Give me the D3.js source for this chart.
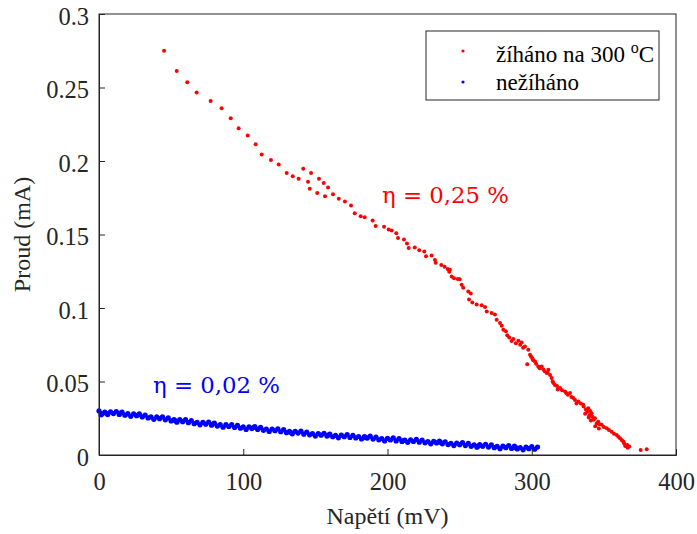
<!DOCTYPE html>
<html><head><meta charset="utf-8">
<script src="https://cdn.jsdelivr.net/npm/d3@7"></script>
<style>body{margin:0;background:#fff}svg{display:block}</style>
</head><body><svg id="c" width="697" height="534"></svg>
<script>
const xTicks = [0, 100, 200, 300, 400];
const yTicks = [0, 0.05, 0.1, 0.15, 0.2, 0.25, 0.3];
const yTickLabels = ["0", "0.05", "0.1", "0.15", "0.2", "0.25", "0.3"];
const seriesNames = ["žíháno na 300", "nežíháno"];
const annotations = ["η = 0,25 %", "η = 0,02 %"];

// annealed (žíháno) : [U mV, I mA]
const annealed = [
[45.1,0.2750],[53.9,0.2613],[61.2,0.2536],[67.7,0.2466],[77.4,0.2409],[85.0,0.2359],[91.3,0.2291],[96.8,0.2223],
[103.1,0.2173],[108.6,0.2114],[112.8,0.2045],[119.2,0.2007],[124.6,0.1977],[130.1,0.1918],[134.3,0.1897],[138.4,0.1880],
[141.6,0.1948],[147.0,0.1918],[144.9,0.1859],[146.1,0.1812],[152.5,0.1880],[155.8,0.1850],[158.8,0.1820],[151.3,0.1782],
[156.7,0.1761],[162.2,0.1773],[166.2,0.1743],[170.5,0.1725],[174.7,0.1698],[177.3,0.1645],[181.4,0.1625],[184.2,0.1618],
[189.7,0.1595],[191.8,0.1557],[197.6,0.1553],[200.8,0.1534],[202.9,0.1527],[206.1,0.1509],[207.3,0.1477],[211.4,0.1466],
[213.5,0.1439],[214.7,0.1409],[218.9,0.1411],[222.0,0.1393],[225.5,0.1384],[226.7,0.1352],[230.6,0.1357],[232.9,0.1327],
[233.4,0.1307],[237.3,0.1293],[239.6,0.1280],[241.7,0.1266],[243.3,0.1261],[242.8,0.1246],[244.5,0.1214],[246.1,0.1202],
[248.7,0.1198],[250.0,0.1195],[251.4,0.1159],[252.5,0.1137],[256.0,0.1113],[257.7,0.1098],[256.5,0.1057],[258.8,0.1038],
[261.8,0.1023],[265.3,0.1018],[267.6,0.1007],[268.8,0.0977],[272.2,0.0966],[274.5,0.0955],[275.7,0.0920],[278.0,0.0898],
[279.2,0.0880],[280.3,0.0852],[282.1,0.0841],[284.4,0.0800],[287.2,0.0789],[290.7,0.0777],[293.0,0.0766],[295.3,0.0738],
[297.6,0.0716],[298.8,0.0682],[300.4,0.0659],[302.3,0.0636],[296.9,0.0618],[304.5,0.0602],[306.9,0.0602],[308.0,0.0584],
[311.5,0.0580],[310.4,0.0557],[312.7,0.0545],[313.8,0.0523],[316.1,0.0477],[319.6,0.0455],[323.1,0.0432],[326.5,0.0421],
[328.8,0.0387],[332.3,0.0364],[335.7,0.0341],[339.2,0.0318],[341.5,0.0284],[343.8,0.0250],[346.1,0.0227],[348.5,0.0205],
[352.0,0.0182],[355.4,0.0159],[358.9,0.0136],[361.2,0.0114],[363.5,0.0091],[366.2,0.0068],[367.6,0.0057],[375.5,0.0034],
[379.7,0.0039],
[283.0,0.0815],[286.0,0.0775],[289.0,0.0760],[292.0,0.0750],[294.0,0.0730],[299.5,0.0670],[301.0,0.0645],[303.0,0.0620],
[305.5,0.0590],[309.0,0.0570],[311.0,0.0560],[314.5,0.0500],[315.0,0.0490],[317.5,0.0470],[318.0,0.0445],[321.0,0.0440],
[324.0,0.0420],[325.0,0.0410],[327.5,0.0395],[330.0,0.0375],[331.0,0.0350],[334.0,0.0350],[336.0,0.0330],[337.5,0.0310],
[338.5,0.0295],[340.5,0.0300],[340.0,0.0270],[342.0,0.0260],[343.0,0.0240],[345.0,0.0215],[347.0,0.0210],[350.0,0.0190],
[353.5,0.0170],[357.0,0.0145],[360.0,0.0125],[362.5,0.0100],[364.0,0.0080],[365.0,0.0065],[366.5,0.0050],[364.8,0.0062],
[337.0,0.0280],[339.5,0.0255],[341.0,0.0235],[344.0,0.0195],[346.5,0.0180]
];

// not annealed (nežíháno) : [U mV, I mA]
const notAnnealed = [
[0,0.0300],[2,0.0281],[4,0.0291],[6,0.0275],[8,0.0293],[10,0.0282],[12,0.0296],[14,0.0276],[16,0.0291],[18,0.0271],
[20,0.0281],[22,0.0263],[24,0.0280],[26,0.0267],[28,0.0280],[30,0.0259],[32,0.0272],[34,0.0252],[36,0.0260],[38,0.0243],
[40,0.0259],[42,0.0247],[44,0.0259],[46,0.0239],[48,0.0252],[50,0.0232],[52,0.0241],[54,0.0223],[56,0.0240],[58,0.0227],
[60,0.0240],[62,0.0220],[64,0.0234],[66,0.0213],[68,0.0222],[70,0.0205],[72,0.0222],[74,0.0210],[76,0.0223],[78,0.0203],
[80,0.0217],[82,0.0197],[84,0.0206],[86,0.0189],[88,0.0206],[90,0.0194],[92,0.0207],[94,0.0187],[96,0.0202],[98,0.0182],
[100,0.0191],[102,0.0174],[104,0.0192],[106,0.0180],[108,0.0194],[110,0.0174],[112,0.0188],[114,0.0168],[116,0.0177],[118,0.0160],
[120,0.0177],[122,0.0165],[124,0.0178],[126,0.0158],[128,0.0172],[130,0.0152],[132,0.0161],[134,0.0144],[136,0.0161],[138,0.0149],
[140,0.0162],[142,0.0142],[144,0.0156],[146,0.0137],[148,0.0146],[150,0.0129],[152,0.0146],[154,0.0135],[156,0.0148],[158,0.0129],
[160,0.0143],[162,0.0124],[164,0.0134],[166,0.0117],[168,0.0135],[170,0.0124],[172,0.0138],[174,0.0119],[176,0.0134],[178,0.0116],
[180,0.0126],[182,0.0109],[184,0.0126],[186,0.0115],[188,0.0128],[190,0.0108],[192,0.0122],[194,0.0103],[196,0.0112],[198,0.0096],
[200,0.0113],[202,0.0102],[204,0.0116],[206,0.0096],[208,0.0111],[210,0.0092],[212,0.0102],[214,0.0086],[216,0.0103],[218,0.0092],
[220,0.0106],[222,0.0087],[224,0.0102],[226,0.0083],[228,0.0092],[230,0.0076],[232,0.0093],[234,0.0082],[236,0.0095],[238,0.0076],
[240,0.0090],[242,0.0071],[244,0.0080],[246,0.0064],[248,0.0081],[250,0.0070],[252,0.0084],[254,0.0064],[256,0.0079],[258,0.0059],
[260,0.0069],[262,0.0053],[264,0.0071],[266,0.0059],[268,0.0073],[270,0.0054],[272,0.0069],[274,0.0050],[276,0.0059],[278,0.0043],
[280,0.0061],[282,0.0050],[284,0.0064],[286,0.0045],[288,0.0060],[290,0.0041],[292,0.0051],[294,0.0035],[296,0.0053],[298,0.0043],
[300,0.0057],[302,0.0039],[304,0.0054],[1.5,0.0273],[5,0.0284],[15,0.0285],
[27,0.0272],[53,0.0233],[79,0.0211],[107,0.0187],[133,0.0153],[159,0.0136],[185,0.0118],[211,0.0098],[237,0.0085],[263,0.0062],[289,0.0050]
];

const W = 697, H = 534;
const m = {l: 99, r: 676, t: 14, b: 455};
const svg = d3.select("#c");
const x = d3.scaleLinear().domain([0, 400]).range([m.l, m.r]);
const y = d3.scaleLinear().domain([0, 0.3]).range([m.b, m.t]);
const axisColor = "#262626";
const serif = "'Liberation Serif','Times New Roman',serif";

// data
const g = svg.append("g");
g.selectAll("circle.b").data(notAnnealed).join("circle").attr("class","b")
  .attr("cx", d => x(d[0])).attr("cy", d => y(d[1])).attr("r", 2.6).attr("fill", "#0000ff");
g.selectAll("circle.r").data(annealed).join("circle").attr("class","r")
  .attr("cx", d => x(d[0])).attr("cy", d => y(d[1])).attr("r", 2.0).attr("fill", "#ff0000");

// box
svg.append("rect").attr("x", m.l).attr("y", m.t).attr("width", m.r - m.l).attr("height", m.b - m.t)
  .attr("fill", "none").attr("stroke", axisColor).attr("stroke-width", 1);

// axes
const xa = svg.append("g").attr("transform", `translate(0,${m.b})`)
  .call(d3.axisBottom(x).tickValues(xTicks).tickSize(-6).tickPadding(18).tickFormat(d3.format("d")));
const ya = svg.append("g").attr("transform", `translate(${m.l},0)`)
  .call(d3.axisLeft(y).tickValues(yTicks).tickSize(-6).tickPadding(10).tickFormat((d,i) => yTickLabels[i]));
[xa, ya].forEach(a => {
  a.select(".domain").attr("stroke", axisColor);
  a.selectAll(".tick line").attr("stroke", axisColor);
  a.selectAll("text").attr("fill", axisColor).style("font-family", serif).style("font-size", "24.5px");
});
ya.selectAll(".tick text").attr("dy", "0.42em");

// axis titles
svg.append("text").attr("x", (m.l + m.r) / 2).attr("y", 524).attr("text-anchor", "middle")
  .style("font-family", serif).style("font-size", "24px").attr("fill", axisColor).text("Napětí (mV)");
svg.append("text").attr("transform", `translate(30,${(m.t + m.b) / 2}) rotate(-90)`).attr("text-anchor", "middle")
  .style("font-family", serif).style("font-size", "24px").attr("fill", axisColor).text("Proud (mA)");

// legend
const lg = svg.append("g");
lg.append("rect").attr("x", 426).attr("y", 31).attr("width", 233).attr("height", 69)
  .attr("fill", "#fff").attr("stroke", axisColor).attr("stroke-width", 1);
lg.append("circle").attr("cx", 463).attr("cy", 51).attr("r", 1.6).attr("fill", "#ff0000");
lg.append("circle").attr("cx", 463).attr("cy", 82).attr("r", 1.6).attr("fill", "#0000ff");
const t1 = lg.append("text").attr("x", 496).attr("y", 62).style("font-family", serif).style("font-size", "23px").attr("fill", "#000");
t1.append("tspan").text(seriesNames[0] + " ");
t1.append("tspan").attr("dy", -9).style("font-size", "16px").text("o");
t1.append("tspan").attr("dy", 9).text("C");
lg.append("text").attr("x", 496).attr("y", 90).style("font-family", serif).style("font-size", "23px").attr("fill", "#000").text(seriesNames[1]);

// annotations
const af = "'DejaVu Serif',serif";
svg.append("text").attr("x", 382).attr("y", 203).style("font-family", af).style("font-size", "22.8px").attr("fill", "#ff0000").text(annotations[0]);
svg.append("text").attr("x", 153).attr("y", 393).style("font-family", af).style("font-size", "22.8px").attr("fill", "#0000ff").text(annotations[1]);
</script></body></html>
